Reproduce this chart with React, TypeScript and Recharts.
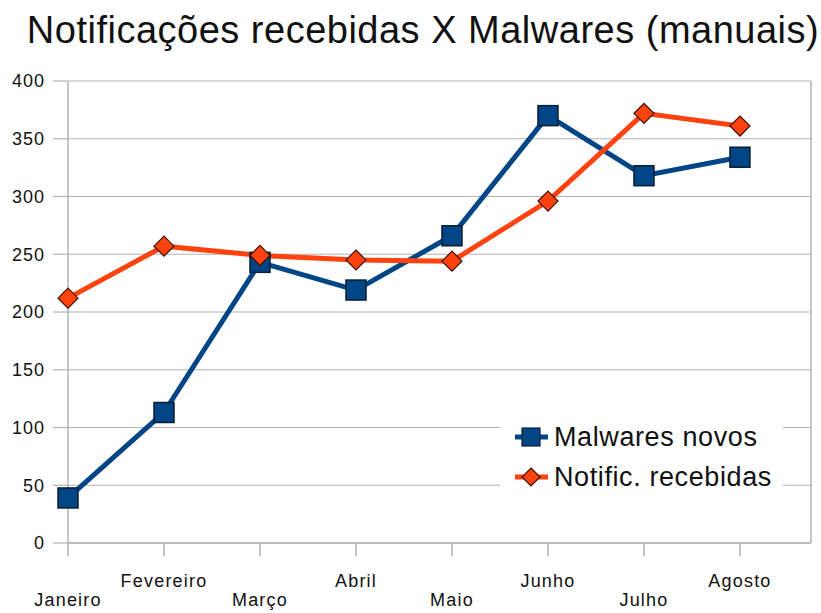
import React from 'react';
import { LineChart, Line, XAxis, YAxis, CartesianGrid, ReferenceLine } from 'recharts';

const months = ['Janeiro', 'Fevereiro', 'Março', 'Abril', 'Maio', 'Junho', 'Julho', 'Agosto'];
const malwares = [39, 113, 243, 219, 266, 370, 318, 334];
const notific = [212, 257, 249, 245, 244, 296, 372, 361];
const yTicks = [0, 50, 100, 150, 200, 250, 300, 350, 400];
const seriesNames = ['Malwares novos', 'Notific. recebidas'];

const BLUE = '#004586';
const ORANGE = '#ff420e';
const GRID = '#b3b3b3';
const FONT = '"Liberation Sans", Arial, sans-serif';

const data = months.map((m, i) => ({ idx: i, month: m, malwares: malwares[i], notific: notific[i] }));

const SquareDot = (props: any) => {
  const { cx, cy } = props;
  if (cx == null || cy == null) return null;
  return <rect x={cx - 10} y={cy - 10} width={20} height={20} fill={BLUE} stroke="#0a1e33" strokeWidth={1.5} />;
};

const DiamondDot = (props: any) => {
  const { cx, cy } = props;
  if (cx == null || cy == null) return null;
  const r = 10;
  return (
    <polygon
      points={`${cx},${cy - r} ${cx + r},${cy} ${cx},${cy + r} ${cx - r},${cy}`}
      fill={ORANGE}
      stroke="#3a1208"
      strokeWidth={1.2}
    />
  );
};

const XTick = (props: any) => {
  const { x, y, payload } = props;
  const i = payload.value as number;
  const label = months[i];
  const dy = i % 2 === 1 ? 29 : 48;
  return (
    <text x={x} y={y + dy} textAnchor="middle" fontFamily={FONT} fontSize={18} letterSpacing={1.2} fill="#111">
      {label}
    </text>
  );
};

const LegendBox = () => {
  const items = [
    { label: seriesNames[0], color: BLUE, shape: 'square' },
    { label: seriesNames[1], color: ORANGE, shape: 'diamond' },
  ];
  return (
    <div style={{ position: 'absolute', left: 500, top: 414, width: 283, height: 86, background: '#fff', paddingTop: 3, boxSizing: 'border-box' }}>
      {items.map((it) => (
        <div key={it.label} style={{ display: 'flex', alignItems: 'center', height: 40, marginLeft: 14 }}>
          <svg width={36} height={24} style={{ display: 'block' }}>
            <line x1={1} y1={12} x2={34} y2={12} stroke={it.color} strokeWidth={5} />
            {it.shape === 'square' ? (
              <rect x={8} y={3} width={18} height={18} fill={BLUE} stroke="#0a1e33" strokeWidth={1.2} />
            ) : (
              <polygon points="17,3 26,12 17,21 8,12" fill={ORANGE} stroke="#3a1208" strokeWidth={1.2} />
            )}
          </svg>
          <span style={{ fontFamily: FONT, fontSize: 27, color: '#111', marginLeft: 4, letterSpacing: 0.6, lineHeight: '40px', whiteSpace: 'nowrap' }}>
            {it.label}
          </span>
        </div>
      ))}
    </div>
  );
};

export default function App() {
  return (
    <div style={{ position: 'absolute', left: 0, top: 0, width: 821, height: 613, background: '#fff' }}>
      <div
        style={{
          position: 'absolute',
          left: 0,
          top: 8,
          width: 846,
          textAlign: 'center',
          fontFamily: FONT,
          fontSize: 38,
          letterSpacing: 0.5,
          color: '#111',
          lineHeight: '44px',
          whiteSpace: 'nowrap',
        }}
      >
        Notificações recebidas X Malwares (manuais)
      </div>
      <div style={{ position: 'absolute', left: 0, top: 0 }}>
        <LineChart
          width={821}
          height={613}
          data={data}
          margin={{ top: 81, right: 10, left: 8, bottom: 0 }}
        >
          <CartesianGrid stroke={GRID} vertical={false} strokeWidth={1.2} />
          <ReferenceLine x={7.74} stroke={GRID} strokeWidth={1.5} />
          <XAxis
            type="number"
            dataKey="idx"
            domain={[0, 7.74]}
            ticks={[0, 1, 2, 3, 4, 5, 6, 7]}
            height={70}
            tickSize={13}
            axisLine={{ stroke: GRID, strokeWidth: 1.5 }}
            tickLine={{ stroke: GRID, strokeWidth: 1.5 }}
            tick={<XTick />}
            interval={0}
          />
          <YAxis
            domain={[0, 400]}
            ticks={yTicks}
            width={60}
            tickSize={15}
            tickMargin={8}
            axisLine={{ stroke: GRID, strokeWidth: 1.5 }}
            tickLine={{ stroke: GRID, strokeWidth: 1.2 }}
            tick={{ fontFamily: FONT, fontSize: 18, fill: '#111', letterSpacing: 1 }}
            interval={0}
          />
          <Line
            type="linear"
            dataKey="malwares"
            name={seriesNames[0]}
            stroke={BLUE}
            strokeWidth={5}
            dot={<SquareDot />}
            activeDot={false}
            isAnimationActive={false}
          />
          <Line
            type="linear"
            dataKey="notific"
            name={seriesNames[1]}
            stroke={ORANGE}
            strokeWidth={5}
            dot={<DiamondDot />}
            activeDot={false}
            isAnimationActive={false}
          />
        </LineChart>
      </div>
      <LegendBox />
    </div>
  );
}
